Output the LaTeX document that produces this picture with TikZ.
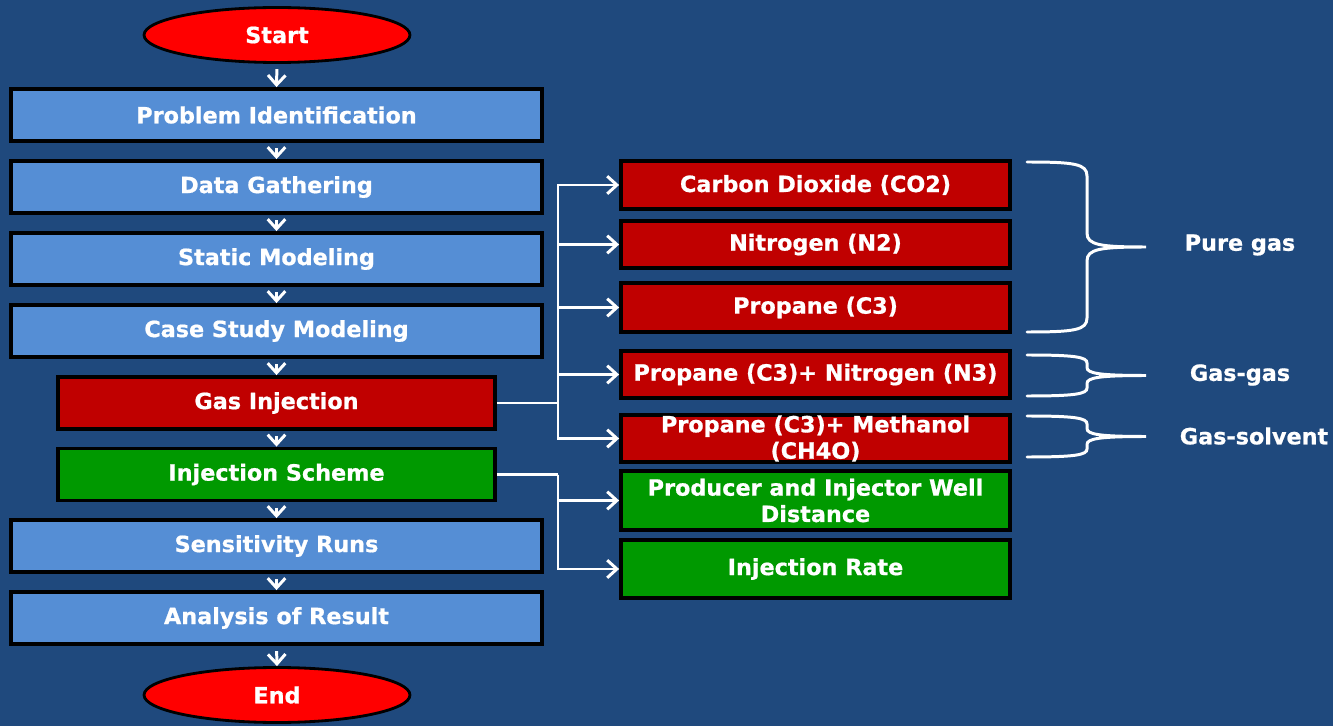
\documentclass[tikz,border=0pt]{standalone}
\usepackage{fontspec}
\setmainfont{DejaVu Sans}[BoldFeatures={FakeBold=0.8}]
\usetikzlibrary{shapes.geometric,arrows.meta}
\definecolor{bgblue}{HTML}{1F497D}
\definecolor{stepblue}{HTML}{558ED5}
\definecolor{gasred}{HTML}{C00000}
\definecolor{schemegreen}{HTML}{009900}
\tikzset{
  txt/.style={text=white, font=\bfseries\fontsize{12.7}{15}\selectfont},
  terminal/.style={txt, ellipse, draw=black, line width=1.6pt, fill=red,
    minimum width=5.32cm, minimum height=1.1cm, inner sep=0pt},
  stepbox/.style={txt, rectangle, draw=black, line width=2.2pt, fill=stepblue,
    minimum width=10.62cm, minimum height=1.04cm, inner sep=0pt},
  subbox/.style={stepbox, minimum width=8.74cm},
  optbox/.style={txt, rectangle, draw=black, line width=2.2pt,
    minimum width=7.78cm, minimum height=0.95cm, inner xsep=2pt, inner ysep=0pt,
    align=center},
  link/.style={draw=white, line width=1.7pt},
  arrow/.style={link, -{Straight Barb[length=5.5pt,width=10pt]}},
  brace/.style={draw=white, line width=1.7pt, line cap=round},
}
\begin{document}
\begin{tikzpicture}[x=0.02cm, y=-0.02cm]
  \fill[bgblue] (0,0) rectangle (1333,726);
  \useasboundingbox (0,0) rectangle (1333,726);

  \node[terminal] (start) at (277,35) {Start};
  \node[stepbox] (problem) at (276.5,115) {Problem Identification};
  \node[stepbox] (data) at (276.5,187) {Data Gathering};
  \node[stepbox] (static) at (276.5,259) {Static Modeling};
  \node[stepbox] (case) at (276.5,331) {Case Study Modeling};
  \node[subbox, fill=gasred] (gasinj) at (276.5,403) {Gas Injection};
  \node[subbox, fill=schemegreen] (scheme) at (276.5,474.5) {Injection Scheme};
  \node[stepbox] (sens) at (276.5,546) {Sensitivity Runs};
  \node[stepbox] (analysis) at (276.5,618) {Analysis of Result};
  \node[terminal] (end) at (277,695) {End};

  \node[optbox, fill=gasred] (co2) at (815.5,185) {Carbon Dioxide (CO2)};
  \node[optbox, fill=gasred] (n2) at (815.5,244.5) {Nitrogen (N2)};
  \node[optbox, fill=gasred, minimum height=0.98cm] (c3) at (815.5,307.5) {Propane (C3)};
  \node[optbox, fill=gasred] (c3n3) at (815.5,374.5) {Propane (C3)+ Nitrogen (N3)};
  \node[optbox, fill=gasred] (c3meth) at (815.5,438.5) {Propane (C3)+ Methanol\\(CH4O)};
  \node[optbox, fill=schemegreen, minimum height=1.18cm] (producer) at (815.5,500.5)
    {Producer and Injector Well\\Distance};
  \node[optbox, fill=schemegreen, minimum height=1.16cm] (rate) at (815.5,569) {Injection Rate};

  \foreach \a/\b in {start/problem, problem/data, data/static, static/case,
    case/gasinj, gasinj/scheme, scheme/sens, sens/analysis, analysis/end}
    \draw[arrow, shorten <=3pt] (\a.south) -- (\b.north);

  \coordinate (gj) at (558,403);
  \draw[link] (gasinj.east) -- (gj);
  \foreach \t in {co2, n2, c3, c3n3, c3meth}
    \draw[arrow] (gj) |- (\t.west);

  \coordinate (is) at (558,474.5);
  \draw[link] (scheme.east) -- (is);
  \foreach \t in {producer, rate}
    \draw[arrow] (is) |- (\t.west);

  \foreach \top/\bot/\r in {162/332/14, 355/396/8, 416/457/8} {
    \pgfmathsetmacro\bmid{(\top+\bot)/2}
    \draw[brace] (1027,\top) .. controls (1075,\top) and (1087,\top+2) .. (1087,\top+\r)
      -- (1087,\bmid-\r) .. controls (1087,\bmid-2) and (1100,\bmid) .. (1146,\bmid)
      .. controls (1100,\bmid) and (1087,\bmid+2) .. (1087,\bmid+\r)
      -- (1087,\bot-\r) .. controls (1087,\bot-2) and (1075,\bot) .. (1027,\bot);
  }

  \node[txt] (puregas) at (1240,245) {Pure gas};
  \node[txt] (gasgas) at (1240,375) {Gas-gas};
  \node[txt] (gassolv) at (1254,436) {Gas-solvent};
\end{tikzpicture}
\end{document}
